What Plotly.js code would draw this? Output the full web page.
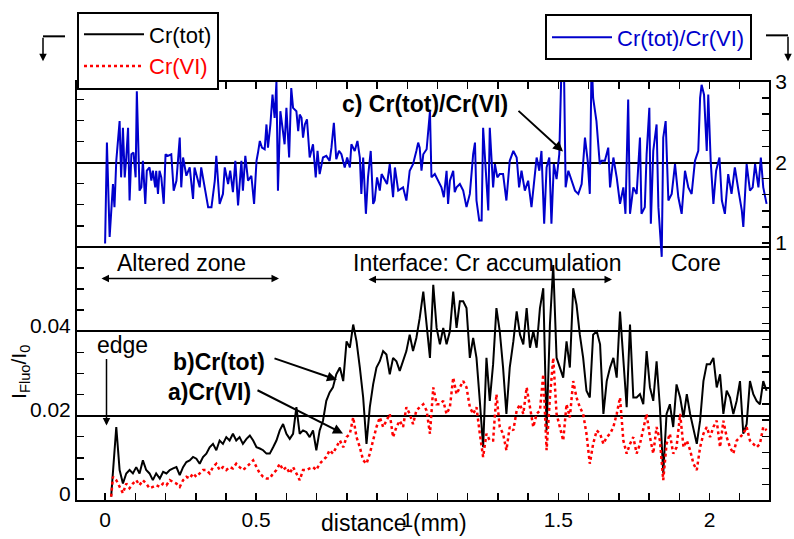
<!DOCTYPE html>
<html>
<head>
<meta charset="utf-8">
<script src="https://cdn.plot.ly/plotly-3.0.1.min.js"></script>
<style>html,body{margin:0;padding:0;background:#fff;}#chart{width:794px;height:539px;}</style>
</head>
<body>
<div id="chart"></div>
<script>
// distance (mm) for Cr(tot) and Cr(VI)
const distance = [0.020,0.026,0.037,0.048,0.059,0.070,0.081,0.092,0.103,0.114,0.125,0.136,0.147,0.158,0.169,0.181,0.192,0.203,0.214,0.225,0.236,0.247,0.258,0.269,0.280,0.291,0.302,0.313,0.324,0.335,0.346,0.357,0.368,0.379,0.390,0.401,0.412,0.423,0.434,0.445,0.456,0.468,0.479,0.490,0.501,0.512,0.523,0.534,0.545,0.556,0.567,0.578,0.589,0.600,0.611,0.622,0.633,0.644,0.655,0.666,0.677,0.688,0.699,0.710,0.721,0.732,0.743,0.754,0.765,0.777,0.788,0.799,0.810,0.821,0.832,0.843,0.854,0.865,0.876,0.887,0.898,0.909,0.920,0.931,0.942,0.953,0.964,0.975,
0.986,0.997,1.008,1.019,1.030,1.041,1.053,1.064,1.075,1.086,1.097,1.108,1.119,1.130,1.141,1.152,1.163,1.174,1.185,1.196,1.207,1.218,1.229,1.240,1.251,1.262,1.273,1.284,1.295,1.306,1.317,1.328,1.339,1.351,1.362,1.373,1.384,1.395,1.406,1.417,1.428,1.439,1.450,1.461,1.472,1.483,1.494,1.505,1.516,1.527,1.538,1.549,1.560,1.571,1.582,1.593,1.604,1.615,1.627,1.638,1.649,1.660,1.671,1.682,1.693,1.704,1.715,1.726,1.737,1.748,1.759,1.770,1.781,1.792,1.803,1.814,1.825,1.836,1.847,1.858,1.869,1.880,1.891,1.903,1.914,1.925,1.936,1.947,1.958,1.969,1.980,1.991,2.002,2.013,2.024,2.035,2.046,2.057,2.068,2.079,2.090,2.101,2.112,2.123,2.134,2.145,2.156,2.167,2.178,2.189];

// I_Fluo/I_0 of total Cr
const crTot = [0.0008,
0.0063,0.0173,0.0071,0.0039,0.0063,0.0071,0.0063,0.0078,0.0063,0.0094,
0.0071,0.0063,0.0047,0.0063,0.0051,0.0067,0.0063,0.0071,0.0075,0.0078,
0.0059,0.0078,0.0090,0.0094,0.0102,0.0098,0.0086,0.0102,0.0110,0.0125,
0.0133,0.0118,0.0141,0.0133,0.0149,0.0141,0.0157,0.0141,0.0149,0.0133,
0.0145,0.0153,0.0141,0.0125,0.0122,0.0118,0.0110,0.0110,0.0125,0.0141,
0.0165,0.0180,0.0157,0.0145,0.0157,0.0220,0.0157,0.0165,0.0161,0.0149,
0.0165,0.0118,0.0165,0.0188,0.0235,0.0255,0.0267,0.0298,0.0314,0.0282,
0.0376,0.0361,0.0416,0.0376,0.0314,0.0243,0.0133,0.0220,0.0274,0.0314,
0.0329,0.0353,0.0345,0.0298,0.0337,0.0329,0.0306,
0.0329,0.0353,0.0392,0.0353,0.0384,0.0431,0.0494,0.0408,0.0337,0.0510,
0.0408,0.0369,0.0408,0.0369,0.0400,0.0494,0.0408,0.0471,0.0471,0.0455,
0.0337,0.0384,0.0337,0.0235,0.0125,0.0337,0.0235,0.0322,0.0455,0.0400,
0.0314,0.0204,0.0314,0.0376,0.0447,0.0392,0.0369,0.0455,0.0361,0.0400,
0.0361,0.0455,0.0502,0.0165,0.0416,0.0557,0.0337,0.0314,0.0290,0.0376,
0.0314,0.0502,0.0463,0.0392,0.0337,0.0259,0.0243,0.0392,0.0400,0.0369,
0.0204,0.0282,0.0314,0.0337,0.0290,0.0447,0.0322,0.0220,0.0416,0.0243,
0.0243,0.0251,0.0227,0.0353,0.0267,0.0235,0.0329,0.0220,0.0063,0.0204,
0.0227,0.0173,0.0274,0.0243,0.0196,0.0251,0.0204,0.0165,0.0133,0.0188,
0.0282,0.0322,0.0322,0.0337,0.0267,0.0298,0.0204,0.0259,0.0243,0.0204,
0.0235,0.0282,0.0157,0.0180,0.0282,0.0251,0.0235,0.0227,0.0282,0.0259];

// I_Fluo/I_0 of Cr(VI)
const crVI = [0.0008,
0.0055,0.0047,0.0031,0.0016,0.0039,0.0028,0.0039,0.0047,0.0035,0.0047,
0.0039,0.0028,0.0031,0.0035,0.0031,0.0039,0.0035,0.0047,0.0043,0.0039,
0.0031,0.0047,0.0055,0.0051,0.0063,0.0055,0.0063,0.0071,0.0071,0.0063,
0.0078,0.0086,0.0071,0.0078,0.0071,0.0078,0.0075,0.0086,0.0078,0.0071,
0.0078,0.0086,0.0094,0.0078,0.0063,0.0055,0.0051,0.0051,0.0063,0.0071,
0.0086,0.0071,0.0078,0.0063,0.0078,0.0063,0.0047,0.0071,0.0071,0.0075,
0.0078,0.0071,0.0086,0.0094,0.0102,0.0118,0.0110,0.0125,0.0141,0.0125,
0.0149,0.0157,0.0196,0.0149,0.0125,0.0094,0.0086,0.0110,0.0141,0.0173,
0.0196,0.0173,0.0188,0.0204,0.0149,0.0173,0.0188,
0.0173,0.0220,0.0204,0.0180,0.0212,0.0220,0.0227,0.0212,0.0157,0.0267,
0.0227,0.0227,0.0235,0.0204,0.0220,0.0290,0.0251,0.0267,0.0282,0.0267,
0.0220,0.0204,0.0220,0.0157,0.0102,0.0157,0.0141,0.0141,0.0251,0.0173,
0.0157,0.0118,0.0173,0.0165,0.0212,0.0227,0.0204,0.0267,0.0220,0.0173,
0.0204,0.0212,0.0298,0.0118,0.0243,0.0337,0.0204,0.0173,0.0141,0.0227,
0.0196,0.0282,0.0243,0.0220,0.0204,0.0157,0.0086,0.0133,0.0165,0.0157,
0.0133,0.0149,0.0157,0.0173,0.0204,0.0243,0.0141,0.0110,0.0133,0.0149,
0.0110,0.0133,0.0165,0.0204,0.0149,0.0110,0.0173,0.0141,0.0047,0.0133,
0.0157,0.0110,0.0125,0.0204,0.0125,0.0141,0.0118,0.0086,0.0071,0.0125,
0.0157,0.0173,0.0149,0.0173,0.0188,0.0125,0.0188,0.0149,0.0125,0.0110,
0.0141,0.0149,0.0157,0.0173,0.0141,0.0133,0.0125,0.0133,0.0173,0.0165];

// distance (mm) for the Cr(tot)/Cr(VI) ratio
const ratioDistance = [0.000,0.006,0.015,0.026,0.031,0.037,0.048,0.053,0.059,0.065,
0.070,0.076,0.081,0.087,0.094,0.101,0.105,0.112,0.114,0.120,
0.125,0.133,0.138,0.147,0.153,0.158,0.166,0.169,0.175,0.180,
0.186,0.194,0.200,0.208,0.219,0.227,0.236,0.247,0.252,0.258,
0.269,0.280,0.291,0.296,0.307,0.313,0.318,0.329,0.341,0.352,
0.363,0.368,0.379,0.390,0.396,0.407,0.414,0.423,0.431,0.440,
0.451,0.456,0.464,0.473,0.484,0.493,0.501,0.506,0.512,0.519,
0.528,0.534,0.539,0.547,0.554,0.561,0.567,0.572,0.580,0.587,
0.594,0.600,0.609,0.616,0.622,0.633,0.639,0.644,0.650,0.655,
0.661,0.668,0.677,0.688,0.697,0.703,0.710,0.721,0.732,0.743,
0.749,0.757,0.765,0.774,0.782,0.793,0.801,0.810,0.815,0.826,
0.835,0.843,0.848,0.854,0.863,0.870,0.879,0.887,0.892,0.900,
0.909,0.915,0.926,0.933,0.942,0.953,0.959,0.970,
0.986,0.997,1.008,1.019,1.030,1.036,1.041,1.047,1.053,1.064,
1.075,1.080,1.091,1.102,1.113,1.121,1.130,1.135,1.141,1.152,
1.157,1.163,1.174,1.185,1.196,1.207,1.218,1.224,1.229,1.238,
1.246,1.251,1.260,1.268,1.273,1.284,1.290,1.298,1.306,1.317,
1.328,1.339,1.351,1.362,1.370,1.378,1.389,1.400,1.411,1.417,
1.428,1.437,1.444,1.453,1.461,1.470,1.477,1.485,1.494,1.503,
1.511,1.518,1.524,1.533,1.544,1.555,1.566,1.577,1.588,1.597,
1.604,1.610,1.615,1.626,1.637,1.643,1.654,1.665,1.671,1.682,
1.693,1.704,1.715,1.722,1.731,1.737,1.748,1.759,1.770,1.775,
1.786,1.792,1.801,1.806,1.814,1.825,1.831,1.842,1.847,1.855,
1.864,1.875,1.886,1.897,1.908,1.919,1.930,1.941,1.952,1.963,
1.969,1.974,1.982,1.991,1.996,2.004,2.013,2.022,2.033,2.041,
2.051,2.062,2.073,2.084,2.096,2.107,2.112,2.123,2.134,2.143,
2.151,2.162,2.170,2.178,2.189];

// Cr(tot)/Cr(VI)
const ratio = [0.994,2.247,1.076,1.733,1.446,2.021,2.514,1.816,2.432,1.816,
2.062,2.432,1.528,2.103,2.124,1.816,2.884,1.898,1.651,1.692,
2.021,1.487,1.898,1.939,1.774,1.898,1.692,1.898,1.610,1.898,
1.816,1.487,2.103,2.083,2.103,1.651,1.774,2.309,1.692,2.062,
1.836,1.939,1.548,1.939,1.774,1.692,1.939,1.692,1.446,1.446,
1.774,2.083,1.487,1.610,1.939,1.733,1.898,1.631,2.021,1.466,
2.021,1.651,2.083,1.774,1.836,1.487,2.021,2.124,2.268,2.185,
2.165,2.473,2.185,2.473,2.843,2.555,3.007,1.651,2.637,2.432,
2.227,2.679,2.062,2.925,2.679,2.637,2.391,2.596,2.555,2.309,
2.473,2.535,2.062,2.227,1.816,2.144,1.857,2.062,2.083,2.021,
2.185,2.494,2.041,2.144,2.103,1.939,2.062,1.939,2.227,2.144,
2.268,2.062,1.610,2.062,1.363,1.816,2.144,1.487,1.528,1.816,
1.651,1.857,1.774,1.733,1.980,1.569,1.939,1.651,
1.692,1.528,1.898,1.980,2.144,2.247,2.185,1.898,2.103,2.165,
2.637,1.816,1.857,1.774,1.692,1.569,1.898,1.487,1.774,1.898,
1.631,1.692,1.733,1.651,1.446,1.610,2.103,2.247,1.528,1.281,
1.281,2.432,1.939,1.405,2.432,1.692,1.980,1.816,1.857,1.857,
1.528,2.021,2.144,2.062,1.692,1.898,1.651,1.774,1.446,1.692,
2.062,1.898,2.144,1.240,1.939,2.062,1.240,1.980,1.795,2.103,
3.3,3.3,1.692,1.898,1.774,1.651,1.610,1.733,2.309,2.021,
1.610,3.3,2.802,2.514,1.980,2.021,2.021,2.185,1.692,2.062,
1.816,1.487,1.692,1.363,2.781,1.363,1.692,1.610,2.309,1.363,
1.446,2.103,2.679,1.240,2.144,2.473,1.446,0.829,2.309,2.514,
1.528,1.610,1.980,1.569,1.363,1.898,1.692,1.610,2.021,2.144,
2.802,2.966,2.843,2.144,2.843,2.021,1.487,1.898,2.062,1.528,
1.363,1.857,1.610,1.939,1.651,1.405,1.199,1.980,1.651,1.692,
1.980,1.692,2.062,1.692,1.487];

const xTickLabels = ['0', '0.5', '1', '1.5', '2'];

const FONT = 'Liberation Sans, Arial, Helvetica, sans-serif';

const traces = [
  {x: distance, y: crTot, name: 'Cr(tot)', type: 'scatter', mode: 'lines',
   line: {color: '#000000', width: 2}, yaxis: 'y', legend: 'legend'},
  {x: distance, y: crVI, name: '<span style="color:#ff0000">Cr(VI)</span>', type: 'scatter', mode: 'lines',
   line: {color: '#ff0000', width: 2.5, dash: 'dot'}, yaxis: 'y', legend: 'legend'},
  {x: ratioDistance, y: ratio, name: '<span style="color:#0000cc">Cr(tot)/Cr(VI)</span>', type: 'scatter', mode: 'lines',
   line: {color: '#0000cc', width: 2}, yaxis: 'y2', legend: 'legend2'}
];

function px(X) { return (X - 77) / 692; }
function py(Y) { return (500 - Y) / 421; }

const arrowBase = {showarrow: true, arrowcolor: '#000', arrowwidth: 2, arrowhead: 2, arrowsize: 1,
  xref: 'paper', yref: 'paper', text: '', standoff: 0, startstandoff: 0};

function label(text, X, Y, extra) {
  return Object.assign({text: text, x: px(X), y: py(Y), xref: 'paper', yref: 'paper',
    xanchor: 'center', yanchor: 'middle', showarrow: false, font: {size: 23}}, extra || {});
}

const annotations = [
  label('Altered zone', 181, 261),
  Object.assign({}, arrowBase, {x: px(279), y: py(277), ax: -179, ay: 0, arrowside: 'end+start', startarrowhead: 2, arrowwidth: 1.5}),
  label('Interface: Cr accumulation', 487, 261),
  Object.assign({}, arrowBase, {x: px(612), y: py(278), ax: -245, ay: 0, arrowside: 'end+start', startarrowhead: 2, arrowwidth: 1.5}),
  label('Core', 696, 261),
  label('edge', 122, 344),
  Object.assign({}, arrowBase, {x: px(106.5), y: py(425), ax: 0, ay: -68, arrowwidth: 1.5}),
  label('<b>b)Cr(tot)</b>', 219, 361),
  Object.assign({}, arrowBase, {x: px(337), y: py(379), ax: -64, ay: -22}),
  label('<b>a)Cr(VI)</b>', 209, 391),
  Object.assign({}, arrowBase, {x: px(343), y: py(433), ax: -87, ay: -44}),
  label('<b>c) Cr(tot)/Cr(VI)</b>', 425, 101),
  Object.assign({}, arrowBase, {x: px(563), y: py(149), ax: -46, ay: -42}),
  label('distance (mm)', 394, 523),
  label('I<sub>Fluo</sub>/I<sub>0</sub>', 20, 371, {textangle: -90, font: {size: 21}}),
  Object.assign({}, arrowBase, {x: px(43), y: py(58), ax: 0, ay: -25, arrowwidth: 1.5}),
  Object.assign({}, arrowBase, {x: px(788), y: py(58), ax: 0, ay: -26, arrowwidth: 1.5})
];

const shapes = [
  {type: 'line', xref: 'paper', yref: 'paper', x0: px(65), y0: py(33), x1: px(43), y1: py(33), line: {color: '#000', width: 2}},
  {type: 'line', xref: 'paper', yref: 'paper', x0: px(766), y0: py(32), x1: px(788), y1: py(32), line: {color: '#000', width: 2}}
];

const layout = {
  width: 794, height: 539,
  margin: {l: 77, r: 25, t: 79, b: 39, pad: 0},
  paper_bgcolor: '#fff', plot_bgcolor: '#fff',
  font: {family: FONT, size: 21, color: '#000'},
  showlegend: true,
  xaxis: {
    range: [-0.093, 2.197], tickmode: 'array', tickvals: [0, 0.5, 1, 1.5, 2], ticktext: xTickLabels,
    ticks: 'inside', ticklen: 7, tickwidth: 1.5, tickcolor: '#000',
    minor: {dtick: 0.1, tick0: 0, ticks: 'inside', ticklen: 7, tickwidth: 1.5, tickcolor: '#000', showgrid: false},
    showline: true, linecolor: '#000', linewidth: 2, mirror: 'allticks',
    showgrid: false, zeroline: false, tickfont: {size: 21}
  },
  yaxis: {
    range: [0, 0.0991], dtick: 0.02, tick0: 0,
    labelalias: {'0.06': '', '0.08': ''},
    ticks: 'inside', ticklen: 7, tickwidth: 1.5, tickcolor: '#000',
    minor: {dtick: 0.005, tick0: 0, ticks: 'inside', ticklen: 7, tickwidth: 1.5, tickcolor: '#000', showgrid: false},
    showgrid: true, gridcolor: '#000', gridwidth: 2, zeroline: false,
    showline: true, linecolor: '#000', linewidth: 2, mirror: false,
    tickfont: {size: 21}, ticklabelshift: -6
  },
  yaxis2: {
    overlaying: 'y', side: 'right', range: [-2.191, 3], dtick: 1, tick0: 0,
    labelalias: {'-2': '', '\u22122': '', '-1': '', '\u22121': '', '0': ''},
    ticks: 'inside', ticklen: 7, tickwidth: 1.5, tickcolor: '#000',
    minor: {dtick: 0.2, tick0: 0, ticks: 'inside', ticklen: 7, tickwidth: 1.5, tickcolor: '#000', showgrid: false},
    showgrid: false, zeroline: false,
    showline: true, linecolor: '#000', linewidth: 2,
    tickfont: {size: 21}
  },
  legend: {x: 0, xanchor: 'left', y: py(8), yanchor: 'top', bgcolor: '#fff', bordercolor: '#000', borderwidth: 2,
    font: {size: 22}, itemwidth: 60, tracegroupgap: 0},
  legend2: {x: px(545), xanchor: 'left', y: py(11), yanchor: 'top', bgcolor: '#fff', bordercolor: '#000', borderwidth: 2,
    font: {size: 22}, itemwidth: 60},
  annotations: annotations,
  shapes: shapes
};

Plotly.newPlot('chart', traces, layout, {displayModeBar: false, staticPlot: true});
</script>
</body>
</html>
